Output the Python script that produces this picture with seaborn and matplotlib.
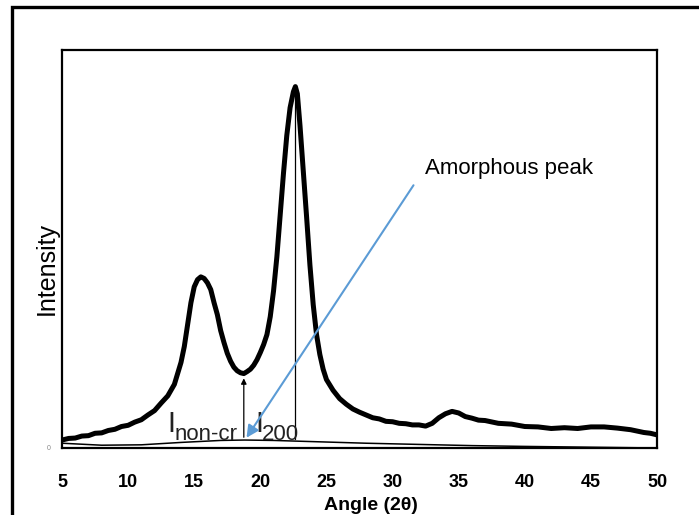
import matplotlib
matplotlib.use("Agg")
import matplotlib.pyplot as plt
import seaborn as sns
import pandas as pd
from matplotlib.patches import Rectangle

# ---- data ----
angle = [5.0, 5.5, 6, 6.5, 7, 7.5, 8, 8.5, 9, 9.5, 10, 10.5, 11, 11.5, 12, 12.5, 13, 13.5,
         14, 14.25, 14.5, 14.75, 15, 15.25, 15.5, 15.75, 16, 16.25, 16.5, 16.75, 17, 17.25,
         17.5, 17.75, 18, 18.25, 18.5, 18.75, 19, 19.25, 19.5, 19.75, 20, 20.25, 20.5, 20.75,
         21, 21.25, 21.5, 21.75, 22, 22.25, 22.5, 22.65, 22.8, 23, 23.25, 23.5, 23.75, 24,
         24.25, 24.5, 24.75, 25, 25.5, 26, 26.5, 27, 27.5, 28, 28.5, 29, 29.5, 30, 30.5, 31,
         31.5, 32, 32.5, 33, 33.5, 34, 34.5, 35, 35.5, 36, 36.5, 37, 38, 39, 40, 41, 42, 43,
         44, 45, 46, 47, 48, 49, 49.5, 50]
intensity = [2.0, 2.4, 2.5, 3.0, 3.1, 3.7, 3.8, 4.4, 4.7, 5.4, 5.7, 6.5, 7.1, 8.3, 9.4, 11.3,
             13.1, 16.0, 21.5, 25.5, 31.0, 36.5, 40.5, 42.3, 43.0, 42.6, 41.5, 39.8, 36.5, 33.5,
             29.5, 26.5, 23.8, 21.8, 20.3, 19.4, 18.9, 18.7, 19.2, 19.8, 20.8, 22.2, 24.0, 26.0,
             28.5, 33.0, 39.5, 48.0, 58.5, 69.0, 78.5, 85.5, 89.5, 90.8, 89.0, 81.0, 69.5, 58.0,
             46.0, 36.0, 28.5, 23.5, 19.8, 17.2, 14.5, 12.4, 11.0, 9.8, 9.0, 8.3, 7.6, 7.3, 6.7,
             6.6, 6.2, 6.1, 5.8, 5.8, 5.5, 6.2, 7.6, 8.6, 9.2, 8.8, 7.9, 7.5, 7.0, 6.9, 6.2, 6.0,
             5.4, 5.3, 4.9, 5.1, 4.9, 5.3, 5.3, 5.0, 4.6, 3.9, 3.7, 3.3]

base_angle = [5, 8, 11, 14, 17, 18.8, 21, 24, 28, 32, 36, 40, 45, 50]
base_int = [1.2, 0.7, 0.8, 1.4, 1.9, 2.0, 1.9, 1.6, 1.2, 0.9, 0.6, 0.4, 0.2, 0.0]

x_ticks = [5, 10, 15, 20, 25, 30, 35, 40, 45, 50]

i_noncr_angle = 18.75
i_noncr_top = 18.2
i_200_angle = 22.6
i_200_top = 89.5
amorph_tip = (18.84, 2.0)
amorph_tail = (31.7, 66.6)

sns.set_style("white")
plt.rcParams['font.family'] = ['Liberation Sans', 'DejaVu Sans']

fig = plt.figure(figsize=(6.99, 5.15), dpi=100)
ax = fig.add_axes([62/699, 1-448/515, (657-62)/699, (448-50)/515])

df = pd.DataFrame({"Angle": angle, "Intensity": intensity})
bdf = pd.DataFrame({"Angle": base_angle, "Intensity": base_int})
sns.lineplot(data=df, x="Angle", y="Intensity", ax=ax, color="black", lw=3.6,
             sort=False, estimator=None)
sns.lineplot(data=bdf, x="Angle", y="Intensity", ax=ax, color="black", lw=1.1,
             sort=False, estimator=None)

ax.set_xlim(5, 50)
ax.set_ylim(0, 100)
ax.set_xticks(x_ticks)
ax.set_xticklabels([str(t) for t in x_ticks], fontsize=13, fontweight='bold', color='black')
ax.set_yticks([0])
ax.set_yticklabels(["0"], fontsize=5, color="#888888")
ax.tick_params(axis='x', direction='out', length=4, width=1, pad=15, colors='black')
ax.tick_params(axis='y', length=0, pad=8)
ax.set_xlabel("Angle (2θ)", fontsize=14, fontweight='bold', color='black')
ax.set_ylabel("Intensity", fontsize=18, color='black')
ax.xaxis.set_label_coords(0.52, -0.122)
ax.yaxis.set_label_coords(-0.026, 0.452)
ax.yaxis.label.set_verticalalignment('center')
for s in ax.spines.values():
    s.set_visible(True)
    s.set_color("black")
    s.set_linewidth(1.6)

# I_non-cr arrow
ax.annotate("", xy=(i_noncr_angle, i_noncr_top), xytext=(i_noncr_angle, 2.0),
            arrowprops=dict(arrowstyle="-|>", color="black", lw=0.9, mutation_scale=8))
# I_200 line
ax.plot([i_200_angle, i_200_angle], [2.3, i_200_top], color="black", lw=0.9)

# labels
ax.text(12.94, 4.0, "I", fontsize=21, color="#222222", va="baseline", ha="left")
ax.text(13.55, 2.0, "non-cr", fontsize=16, color="#222222", va="baseline", ha="left")
ax.text(19.6, 4.0, "I", fontsize=21, color="#222222", va="baseline", ha="left")
ax.text(20.13, 2.0, "200", fontsize=16, color="#222222", va="baseline", ha="left")

# amorphous peak arrow
ax.annotate("", xy=amorph_tip, xytext=amorph_tail,
            arrowprops=dict(arrowstyle="-|>", color="#5B9BD5", lw=1.5, mutation_scale=18))
ax.text(32.46, 68.8, "Amorphous peak", fontsize=16, color="black", va="baseline", ha="left")

# outer frame
fig.patches.append(Rectangle((12/699, -0.2), 1.2, 1.2 - 7/515, transform=fig.transFigure,
                             fill=False, edgecolor="black", lw=2.4, zorder=0))

fig.savefig("out.png", dpi=100)
